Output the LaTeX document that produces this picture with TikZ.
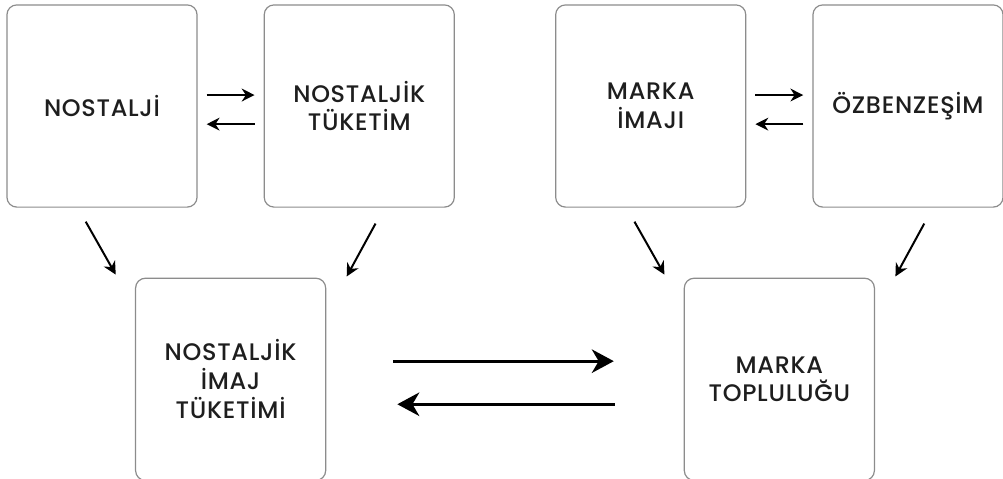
\documentclass[tikz,border=0pt]{standalone}
\usepackage{fontspec}
\setmainfont{Poppins}[UprightFont=* Medium, LetterSpace=3]
\usepackage{tikz}
\usepackage{xcolor}
\usetikzlibrary{positioning,arrows.meta,calc}

\definecolor{box-gray}{HTML}{8C8C8C}
\definecolor{text-dark}{HTML}{1E1E1E}

\begin{document}
\begin{tikzpicture}
[
box-a/.style={draw=box-gray, line width=0.9pt, rounded corners=2.6mm, fill=white,
              minimum width=50.3mm, minimum height=53.5mm, inner sep=0pt,
              align=center, text=text-dark, font=\fontsize{18}{21.75}\selectfont},
arr-s/.style={line width=1.5pt, -{Stealth[length=3.4mm, width=3.4mm, inset=1.1mm]}},
arr-l/.style={line width=2.4pt, -{Stealth[length=5.8mm, width=6.2mm, inset=1.8mm]}}
]
\useasboundingbox (0,0) rectangle (265.4mm,-126.7mm);

% top row
\node (nost)      [box-a] at (26.99mm,-28.05mm)           {NOSTALJİ};
\node (nost-tuk)  [box-a, right = 17.46mm of nost]        {NOSTALJİK\\TÜKETİM};
\node (marka)     [box-a, right = 26.50mm of nost-tuk]    {MARKA\\İMAJI};
\node (ozb)       [box-a, right = 17.46mm of marka]       {ÖZBENZEŞİM};

% bottom row
\coordinate (mid-l) at ($(nost.south)!0.5!(nost-tuk.south)$);
\coordinate (mid-r) at ($(marka.south)!0.5!(ozb.south)$);
\node (nost-imaj) [box-a, below = 18.50mm of mid-l]       {NOSTALJİK\\İMAJ\\TÜKETİMİ};
\node (marka-top) [box-a, below = 18.50mm of mid-r]       {MARKA\\TOPLULUĞU};

% small two-way arrows
\draw [arr-s, shorten <=2.4mm, shorten >=2.4mm] ([yshift= 2.9mm]nost.east)  -- ([yshift= 2.9mm]nost-tuk.west);
\draw [arr-s, shorten <=2.4mm, shorten >=2.4mm] ([yshift=-4.8mm]nost-tuk.west) -- ([yshift=-4.8mm]nost.east);
\draw [arr-s, shorten <=2.4mm, shorten >=2.4mm] ([yshift= 2.9mm]marka.east) -- ([yshift= 2.9mm]ozb.west);
\draw [arr-s, shorten <=2.4mm, shorten >=2.4mm] ([yshift=-4.8mm]ozb.west)   -- ([yshift=-4.8mm]marka.east);

% diagonal arrows
\draw [arr-s] ([xshift=-4.3mm, yshift=-3.7mm]nost.south)     -- ([xshift=-5.1mm, yshift=0.8mm]nost-imaj.north west);
\draw [arr-s] ([xshift= 4.3mm, yshift=-4.2mm]nost-tuk.south) -- ([xshift= 5.4mm, yshift=0.3mm]nost-imaj.north east);
\draw [arr-s] ([xshift=-4.3mm, yshift=-3.7mm]marka.south)    -- ([xshift=-5.1mm, yshift=0.8mm]marka-top.north west);
\draw [arr-s] ([xshift= 4.3mm, yshift=-4.2mm]ozb.south)      -- ([xshift= 5.4mm, yshift=0.3mm]marka-top.north east);

% large two-way arrows
\draw [arr-l, shorten <=17.7mm, shorten >=18.5mm] ([yshift= 4.8mm]nost-imaj.east)  -- ([yshift= 4.8mm]marka-top.west);
\draw [arr-l, shorten <=18.3mm, shorten >=18.8mm] ([yshift=-6.6mm]marka-top.west)  -- ([yshift=-6.6mm]nost-imaj.east);
\end{tikzpicture}
\end{document}
